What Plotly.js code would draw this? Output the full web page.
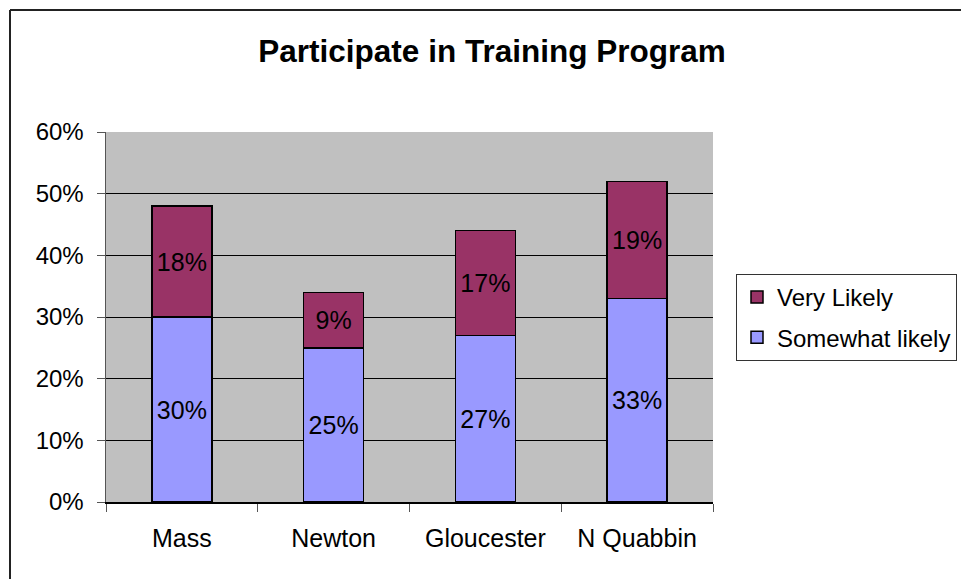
<!DOCTYPE html>
<html>
<head>
<meta charset="utf-8">
<script src="https://cdn.plot.ly/plotly-3.0.1.min.js"></script>
<style>
html,body{margin:0;padding:0;background:#fff;overflow:hidden;}
#chart{width:961px;height:579px;}
</style>
</head>
<body>
<div id="chart"></div>
<script>
const categories = ["Mass", "Newton", "Gloucester", "N Quabbin"];
const somewhatLikely = [30, 25, 27, 33];
const veryLikely = [18, 9, 17, 19];
const yTickVals = [0, 10, 20, 30, 40, 50, 60];
const yTickText = ["0%", "10%", "20%", "30%", "40%", "50%", "60%"];

const font = "Liberation Sans, Arial, sans-serif";

const traces = [
  {
    type: "bar", name: "Somewhat likely", x: categories, y: somewhatLikely, legendgroup: "a", legendrank: 2,
    text: somewhatLikely.map(v => v + "%"), textposition: "inside", insidetextanchor: "middle",
    textfont: {family: font, size: 25, color: "#000"}, constraintext: "none",
    marker: {color: "#9999FF", line: {color: "#000", width: 1.5}},
    hoverinfo: "none"
  },
  {
    type: "bar", name: "Very Likely", x: categories, y: veryLikely, legendgroup: "b", legendrank: 1,
    text: veryLikely.map(v => v + "%"), textposition: "inside", insidetextanchor: "middle",
    textfont: {family: font, size: 25, color: "#000"}, constraintext: "none",
    marker: {color: "#993366", line: {color: "#000", width: 1.5}},
    hoverinfo: "none"
  }
];

const L = 106, R = 713, T = 132, B = 502;
const pw = R - L, ph = B - T;
const px = v => (v - L) / pw;
const py = v => (B - v) / ph;

const layout = {
  width: 961, height: 579,
  margin: {l: L, r: 961 - R, t: T, b: 579 - B, autoexpand: false},
  paper_bgcolor: "#fff", plot_bgcolor: "#C0C0C0",
  barmode: "stack", bargap: 0.605,
  font: {family: font, size: 24, color: "#000"},
  title: {text: "<b>Participate in Training Program</b>", font: {family: font, size: 31.5, color: "#000"},
          x: 492 / 961, xref: "container", xanchor: "center", y: 1 - 51 / 579, yref: "container", yanchor: "middle"},
  xaxis: {type: "category", tickson: "boundaries", ticks: "outside", ticklen: 8, tickcolor: "#555", tickwidth: 1,
          showline: true, linecolor: "#000", linewidth: 2, showgrid: false, ticklabelstandoff: 13,
          tickfont: {family: font, size: 25, color: "#000"}, fixedrange: true},
  yaxis: {range: [0, 60], tickvals: yTickVals, ticktext: yTickText, ticks: "outside", ticklen: 8,
          tickcolor: "#555", showline: true, linecolor: "#555", linewidth: 1.5, ticklabelstandoff: 8,
          showgrid: true, gridcolor: "#000", gridwidth: 1, zeroline: false,
          tickfont: {family: font, size: 24, color: "#000"}, fixedrange: true},
  showlegend: true,
  legend: {x: px(736), xanchor: "left", y: py(274), yanchor: "top", traceorder: "grouped",
           bgcolor: "#fff", bordercolor: "#333", borderwidth: 1,
           font: {family: font, size: 24, color: "#000"}, itemwidth: 30, tracegroupgap: 6},
  shapes: [
    {type: "line", xref: "paper", yref: "paper", x0: px(10), x1: px(10), y0: py(10), y1: py(590), line: {color: "#222", width: 2}},
    {type: "line", xref: "paper", yref: "paper", x0: px(10), x1: px(970), y0: py(10), y1: py(10), line: {color: "#222", width: 2}}
  ]
};

Plotly.newPlot("chart", traces, layout, {displayModeBar: false, staticPlot: true});
</script>
</body>
</html>
